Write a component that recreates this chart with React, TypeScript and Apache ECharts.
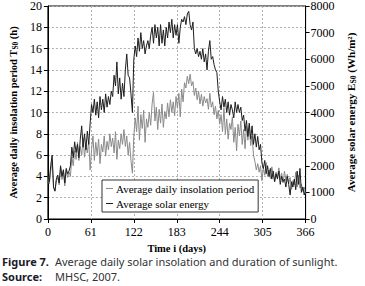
import React, { useEffect, useRef } from "react";
import * as echarts from "echarts";

// Every second day, day 0 .. 366
const insolationHours: number[] = [
  4.0, 3.3, 4.5, 5.5, 3.0, 2.6, 3.6, 3.9, 3.2, 4.8,
  3.7, 4.5, 3.1, 4.6, 3.9, 4.4, 4.0, 5.8, 5.0, 6.4,
  5.6, 7.2, 5.5, 6.8, 6.0, 7.6, 5.8, 7.0, 6.2, 7.3,
  4.6, 6.5, 7.8, 5.5, 7.2, 6.0, 7.5, 5.2, 7.0, 6.3,
  7.8, 5.9, 7.3, 6.5, 8.0, 6.8, 7.6, 6.2, 8.2, 5.6,
  7.4, 6.6, 8.0, 7.0, 8.4, 6.8, 7.8, 6.0, 7.2, 5.5,
  4.3, 7.8, 9.5, 8.2, 10.6, 7.4, 9.8, 8.5, 10.2, 7.2,
  9.4, 8.6, 10.0, 8.8, 10.8, 11.9, 9.2, 10.5, 8.4, 10.3,
  9.0, 10.8, 8.6, 10.1, 9.4, 10.9, 9.6, 11.2, 10.0, 11.0,
  9.7, 11.5, 10.4, 11.8, 9.6, 12.2, 11.0, 12.8, 12.3, 13.4,
  12.7, 13.6, 12.5, 12.9, 11.6, 12.3, 11.2, 12.0, 10.8, 11.7,
  10.6, 11.5, 10.9, 11.3, 10.3, 11.8, 10.5, 11.0, 9.8, 10.6,
  9.4, 10.2, 8.9, 9.8, 8.2, 10.4, 8.0, 9.4, 7.5, 9.0,
  8.4, 9.6, 7.2, 8.6, 6.4, 8.9, 7.8, 9.2, 7.0, 8.4,
  6.6, 8.7, 7.4, 8.8, 6.9, 7.8, 6.0, 5.4, 4.6, 5.2,
  4.4, 5.0, 3.6, 4.8, 4.1, 5.3, 4.0, 4.6, 3.8, 4.9,
  4.2, 3.5, 4.4, 3.9, 4.8, 3.7, 4.3, 3.4, 4.5, 3.6,
  4.2, 3.3, 3.9, 2.8, 3.6, 3.2, 4.4, 3.0, 4.1, 2.9,
  3.3, 2.6, 3.0, 2.4,
];

const solarEnergyWh: number[] = [
  1600, 1400, 2000, 2400, 1200, 1050, 1500, 1650, 1350, 2000,
  1600, 1850, 1350, 1900, 1700, 1800, 2000, 2700, 2300, 2900,
  2500, 2800, 2300, 3000, 3500, 2700, 3200, 2600, 3300, 2800,
  3600, 4300, 4000, 4500, 3900, 4400, 3800, 4600, 4100, 4500,
  4000, 4700, 4200, 4600, 4300, 4800, 4600, 5400, 5000, 5900,
  4700, 5300, 4500, 5100, 4600, 5600, 6200, 5400, 5300, 4700,
  4000, 6000, 6500, 6100, 6800, 6300, 7000, 6400, 6700, 6200,
  6500, 6700, 6400, 6900, 7200, 6600, 7300, 6800, 7200, 6500,
  7300, 6600, 7100, 6500, 7200, 6800, 7400, 7000, 7500, 6800,
  7300, 6900, 7300, 6600, 7200, 7500, 7400, 7600, 7300, 7700,
  7800, 7300, 7100, 7400, 6400, 6200, 6400, 6100, 6300, 6000,
  6400, 5900, 6200, 5600, 6300, 6700, 6000, 6100, 5800, 5600,
  5500, 4800, 4400, 4100, 4600, 4200, 4500, 4000, 4400, 3900,
  4300, 4100, 3800, 4400, 4000, 4300, 4000, 4200, 3700, 3900,
  3300, 3700, 3100, 3600, 3000, 3500, 2800, 3200, 2700, 3100,
  2600, 2800, 2100, 1900, 2200, 1700, 2000, 1600, 1900, 1500,
  1800, 1400, 1700, 1500, 1800, 1300, 1600, 1400, 1500, 1200,
  1600, 1300, 900, 1400, 1200, 1500, 1100, 1800, 1300, 1900,
  1000, 1200, 900, 1100,
];

const dayStep = 2;
const days: number[] = insolationHours.map((_, i) => i * dayStep);

const seriesNames = ["Average daily insolation period", "Average solar energy"];
const xTickInterval = 61;

const serif = "'Liberation Serif', 'DejaVu Serif', serif";
const sans = "'Noto Sans', 'DejaVu Sans', sans-serif";

export default function App() {
  const ref = useRef<HTMLDivElement>(null);
  useEffect(() => {
    if (!ref.current) return;
    const chart = echarts.init(ref.current, null, { renderer: "svg" });
    const axisLabel = { fontFamily: serif, fontSize: 12, color: "#000" };
    const nameStyle = {
      fontFamily: serif,
      fontWeight: "bold" as const,
      fontSize: 10.5,
      color: "#000",
    };
    const richName = (size: number) => ({
      a: { fontFamily: serif, fontWeight: "bold", fontSize: size, color: "#000" },
      s: { fontFamily: serif, fontWeight: "bold", fontSize: size * 0.7, color: "#000", padding: [4, 0, 0, 0] },
    });
    const split = { show: true, lineStyle: { color: "#b0b0b0", type: [2, 2] as any, width: 1 } };
    chart.setOption({
      animation: false,
      backgroundColor: "#fff",
      grid: {
        left: 34,
        right: 43,
        top: 6,
        bottom: 67,
        show: true,
        borderColor: "#000",
        borderWidth: 1,
        backgroundColor: "transparent",
      },
      legend: {
        orient: "vertical",
        left: 102,
        top: 180,
        width: 150,
        padding: [3, 4, 3, 4],
        itemGap: 4,
        itemWidth: 7,
        itemHeight: 1,
        icon: "rect",
        backgroundColor: "#fff",
        borderColor: "#333",
        borderWidth: 1,
        borderRadius: 0,
        textStyle: { fontFamily: serif, fontSize: 11, color: "#000", padding: [0, 0, 0, -2] },
        data: seriesNames,
      },
      xAxis: {
        type: "value",
        min: 0,
        max: 366,
        interval: xTickInterval,
        name: "Time i (days)",
        nameLocation: "middle",
        nameGap: 23,
        nameTextStyle: nameStyle,
        axisLine: { lineStyle: { color: "#000", width: 1 } },
        axisTick: { show: true, length: 4, lineStyle: { color: "#000" } },
        axisLabel: { ...axisLabel, margin: 7 },
        splitLine: split,
      },
      yAxis: [
        {
          type: "value",
          min: 0,
          max: 20,
          interval: 2,
          name: "{a|Average daily insolation period T}{s|S0}{a| (h)}",
          nameLocation: "middle",
          nameRotate: 90,
          nameGap: 24,
          nameTextStyle: { ...nameStyle, rich: richName(10.5) },
          axisLine: { show: true, lineStyle: { color: "#000" } },
          axisTick: { show: true, length: 4, lineStyle: { color: "#000" } },
          axisLabel: { ...axisLabel, margin: 6 },
          splitLine: split,
        },
        {
          type: "value",
          min: 0,
          max: 8000,
          interval: 1000,
          position: "right",
          name: "{a|Average solar energy E}{s|S0}{a| (Wh/m²)}",
          nameLocation: "middle",
          nameRotate: 90,
          nameGap: 35,
          nameTextStyle: { ...nameStyle, fontSize: 11, rich: richName(11) },
          axisLine: { show: true, lineStyle: { color: "#000" } },
          axisTick: { show: true, length: 4, lineStyle: { color: "#000" } },
          axisLabel: { ...axisLabel, margin: 5, formatter: (v: number) => String(v) },
          splitLine: { show: false },
        },
      ],
      series: [
        {
          name: seriesNames[0],
          type: "line",
          yAxisIndex: 0,
          showSymbol: false,
          symbol: "none",
          lineStyle: { color: "#8a8a8a", width: 1 },
          itemStyle: { color: "#8a8a8a" },
          data: days.map((d, i) => [d, insolationHours[i]]),
        },
        {
          name: seriesNames[1],
          type: "line",
          yAxisIndex: 1,
          showSymbol: false,
          symbol: "none",
          lineStyle: { color: "#1e1e1e", width: 1 },
          itemStyle: { color: "#1e1e1e" },
          data: days.map((d, i) => [d, solarEnergyWh[i]]),
        },
      ],
      graphic: [
        {
          type: "text",
          left: 2,
          top: 256,
          style: { text: "Figure 7.", fontFamily: sans, fontWeight: "bold", fontSize: 11, fill: "#1a1a2a" },
        },
        {
          type: "text",
          left: 55,
          top: 256,
          style: {
            text: "Average daily solar insolation and duration of sunlight.",
            fontFamily: sans,
            fontSize: 11,
            fill: "#333",
          },
        },
        {
          type: "text",
          left: 2,
          top: 271,
          style: { text: "Source:", fontFamily: sans, fontWeight: "bold", fontSize: 11, fill: "#1a1a2a" },
        },
        {
          type: "text",
          left: 55,
          top: 271,
          style: { text: "MHSC, 2007.", fontFamily: sans, fontSize: 11, fill: "#333" },
        },
      ],
    });
    return () => chart.dispose();
  }, []);
  return (
    <div
      ref={ref}
      style={{ position: "absolute", left: 0, top: 0, width: 365, height: 286 }}
    />
  );
}
